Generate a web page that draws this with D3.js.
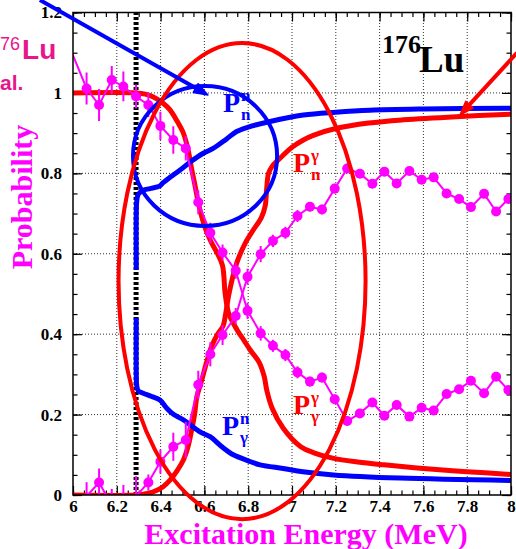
<!DOCTYPE html>
<html>
<head>
<meta charset="utf-8">
<script src="https://cdn.jsdelivr.net/npm/d3@7"></script>
<style>
  body { margin: 0; background: #fff; }
  svg { display: block; }
</style>
</head>
<body>
<svg id="chart" width="516" height="549"></svg>
<script>
// excitation energies (MeV) of the measured points, first one sits just left of the frame
const energies = [5.995, 6.062, 6.119, 6.177, 6.230, 6.288, 6.344, 6.399, 6.458, 6.515, 6.572, 6.627,
  6.683, 6.743, 6.797, 6.857, 6.913, 6.970, 7.025, 7.082, 7.137, 7.195, 7.252, 7.310, 7.367, 7.422,
  7.478, 7.536, 7.592, 7.647, 7.706, 7.763, 7.817, 7.877, 7.932, 7.988]

// measured probabilities (magenta) with errors
const gammaProb = [1.10, 1.011, 0.970, 1.032, 1.016, 0.991, 0.970, 0.918, 0.883, 0.862, 0.728, 0.652,
  0.603, 0.558, 0.458, 0.402, 0.371, 0.348, 0.305, 0.282, 0.292, 0.238, 0.184, 0.203, 0.230, 0.197,
  0.224, 0.195, 0.217, 0.210, 0.251, 0.263, 0.284, 0.253, 0.294, 0.261]
const gammaErr = [0.04, 0.04, 0.04, 0.035, 0.037, 0.03, 0.03, 0.035, 0.034, 0.03, 0.03, 0.025,
  0.02, 0.02, 0.02, 0.018, 0.015, 0.015, 0.015, 0.012, 0.012, 0.012, 0.012, 0.01, 0.01, 0.01,
  0.01, 0.01, 0.01, 0.01, 0.01, 0.01, 0.01, 0.01, 0.01, 0.01]

const neutronProb = [-0.05, -0.003, 0.031, -0.025, -0.02, -0.003, 0.031, 0.083, 0.120, 0.137, 0.274, 0.350,
  0.398, 0.445, 0.543, 0.599, 0.632, 0.652, 0.694, 0.717, 0.710, 0.762, 0.812, 0.799, 0.774, 0.804,
  0.775, 0.806, 0.784, 0.790, 0.750, 0.736, 0.716, 0.749, 0.705, 0.736]
const neutronErr = [0.05, 0.035, 0.035, 0.04, 0.045, 0.05, 0.02, 0.03, 0.035, 0.045, 0.035, 0.03,
  0.025, 0.02, 0.02, 0.02, 0.015, 0.015, 0.015, 0.012, 0.012, 0.012, 0.012, 0.01, 0.01, 0.01,
  0.01, 0.01, 0.01, 0.01, 0.01, 0.01, 0.01, 0.01, 0.01, 0.01]

// calculated curves [E, P]
const pNN = [[6.289, 0.56], [6.289, 0.70], [6.291, 0.73], [6.298, 0.748], [6.321, 0.758], [6.352, 0.762],
  [6.397, 0.769], [6.41, 0.776], [6.443, 0.79], [6.489, 0.808], [6.54, 0.83], [6.595, 0.85], [6.64, 0.862],
  [6.7, 0.885], [6.747, 0.904], [6.8, 0.915], [6.9, 0.929], [7.052, 0.945], [7.2, 0.952], [7.356, 0.957],
  [7.6, 0.96], [8.0, 0.962]]
const pGN = [[6.289, 0.44], [6.289, 0.30], [6.291, 0.272], [6.298, 0.259], [6.321, 0.253], [6.36, 0.245],
  [6.397, 0.236], [6.428, 0.216], [6.46, 0.2], [6.504, 0.187], [6.58, 0.157], [6.626, 0.145], [6.68, 0.12],
  [6.732, 0.1], [6.8, 0.085], [6.854, 0.075], [6.96, 0.066], [7.05, 0.058], [7.189, 0.05], [7.493, 0.042],
  [8.0, 0.036]]
const pGG = [[6.0, 1.0], [6.29, 1.0], [6.33, 0.997], [6.367, 0.99], [6.41, 0.975], [6.443, 0.958],
  [6.475, 0.93], [6.504, 0.9], [6.525, 0.86], [6.542, 0.81], [6.557, 0.77], [6.575, 0.72], [6.6, 0.67],
  [6.63, 0.63], [6.66, 0.6], [6.683, 0.57], [6.695, 0.5], [6.712, 0.45], [6.75, 0.41], [6.78, 0.385],
  [6.81, 0.36], [6.85, 0.33], [6.873, 0.295], [6.885, 0.26], [6.91, 0.215], [6.96, 0.166], [7.04, 0.12],
  [7.1, 0.105], [7.19, 0.091], [7.3, 0.082], [7.42, 0.075], [7.6, 0.066], [7.8, 0.058], [8.0, 0.051]]
const pNG = [[6.0, 0.0], [6.29, 0.0], [6.33, 0.003], [6.367, 0.008], [6.41, 0.02], [6.443, 0.037],
  [6.475, 0.06], [6.504, 0.087], [6.525, 0.12], [6.542, 0.162], [6.555, 0.2], [6.566, 0.245],
  [6.588, 0.286], [6.61, 0.33], [6.633, 0.37], [6.66, 0.40], [6.685, 0.42], [6.697, 0.45], [6.712, 0.5],
  [6.747, 0.576], [6.79, 0.63], [6.823, 0.659], [6.86, 0.69], [6.878, 0.72], [6.884, 0.76], [6.893, 0.80],
  [6.91, 0.818], [6.95, 0.84], [7.0, 0.865], [7.052, 0.883], [7.1, 0.895], [7.204, 0.912], [7.35, 0.925],
  [7.508, 0.933], [7.75, 0.941], [8.0, 0.947]]

const threshold = 6.288

const xTickLabels = ["6", "6.2", "6.4", "6.6", "6.8", "7", "7.2", "7.4", "7.6", "7.8", "8"]
const yTickLabels = ["0", "0.2", "0.4", "0.6", "0.8", "1", "1.2"]

// curve labels: anchor of the "P" in data coords
const curveLabels = [
  { e: 6.685, p: 0.953, sup: "n", sub: "n", color: "#0000ff" },
  { e: 7.005, p: 0.803, sup: "\u03b3", sub: "n", color: "#ff0000" },
  { e: 7.005, p: 0.201, sup: "\u03b3", sub: "\u03b3", color: "#ff0000" },
  { e: 6.680, p: 0.149, sup: "n", sub: "\u03b3", color: "#0000ff" }
]

// hand drawn marks over the figure (data coords)
const ellipses = [
  { e: 6.603, p: 0.843, re: 0.329, rp: 0.174, color: "#0000ff" },
  { e: 6.772, p: 0.532, re: 0.564, rp: 0.592, color: "#ff0000" }
]
const arrows = [
  { from: [5.849, 1.231], to: [6.616, 0.995], color: "#0000ff" },
  { from: [8.027, 1.0995], to: [7.767, 0.945], color: "#ff0000" }
]

const svg = d3.select("#chart")
const x = d3.scaleLinear().domain([6, 8]).range([73, 511])
const y = d3.scaleLinear().domain([0, 1.2]).range([495, 12.5])
const serif = "'Liberation Serif', 'Times New Roman', serif"
const sans = "'Liberation Sans', Arial, sans-serif"

svg.append("defs").append("clipPath").attr("id", "plot")
  .append("rect")
  .attr("x", x(6)).attr("y", y(1.2))
  .attr("width", x(8) - x(6)).attr("height", y(0) - y(1.2))

// grid
const grid = svg.append("g")
grid.selectAll("line.gx")
  .data(x.ticks(10).slice(1, -1))
  .join("line")
  .attr("x1", d => x(d)).attr("x2", d => x(d))
  .attr("y1", y(0)).attr("y2", y(1.2))
grid.selectAll("line.gy")
  .data(y.ticks(6).slice(1, -1))
  .join("line")
  .attr("class", "gy")
  .attr("x1", x(6)).attr("x2", x(8))
  .attr("y1", d => y(d)).attr("y2", d => y(d))
grid.selectAll("line")
  .attr("stroke", "#333")
  .attr("stroke-width", 1)
  .attr("stroke-dasharray", "1,2")

// axes with inward ticks on all four sides
function tidy(g) {
  g.select(".domain").remove()
  g.selectAll("line").attr("stroke", "#000").attr("stroke-width", 1.2)
  g.selectAll("text")
    .attr("font-family", serif)
    .attr("font-weight", "bold")
    .attr("font-size", 17)
    .attr("fill", "#000")
}
const fmtX = d => xTickLabels[Math.round((d - 6) / 0.2)]
const fmtY = d => yTickLabels[Math.round(d / 0.2)]

svg.append("g").attr("transform", `translate(0,${y(0)})`)
  .call(d3.axisBottom(x).ticks(50).tickSize(-4.5).tickFormat(""))
  .call(tidy)
svg.append("g").attr("transform", `translate(0,${y(0)})`)
  .call(d3.axisBottom(x).ticks(10).tickSize(-9).tickPadding(5).tickFormat(fmtX))
  .call(tidy)
svg.append("g").attr("transform", `translate(0,${y(1.2)})`)
  .call(d3.axisTop(x).ticks(50).tickSize(-4.5).tickFormat(""))
  .call(tidy)
svg.append("g").attr("transform", `translate(0,${y(1.2)})`)
  .call(d3.axisTop(x).ticks(10).tickSize(-9).tickFormat(""))
  .call(tidy)
svg.append("g").attr("transform", `translate(${x(6)},0)`)
  .call(d3.axisLeft(y).ticks(24).tickSize(-4.5).tickFormat(""))
  .call(tidy)
svg.append("g").attr("transform", `translate(${x(6)},0)`)
  .call(d3.axisLeft(y).ticks(6).tickSize(-9).tickPadding(11).tickFormat(fmtY))
  .call(tidy)
svg.append("g").attr("transform", `translate(${x(8)},0)`)
  .call(d3.axisRight(y).ticks(24).tickSize(-4.5).tickFormat(""))
  .call(tidy)
svg.append("g").attr("transform", `translate(${x(8)},0)`)
  .call(d3.axisRight(y).ticks(6).tickSize(-9).tickFormat(""))
  .call(tidy)

const plot = svg.append("g").attr("clip-path", "url(#plot)")

// neutron separation energy
plot.append("line")
  .attr("x1", x(threshold)).attr("x2", x(threshold))
  .attr("y1", y(0)).attr("y2", y(1.2))
  .attr("stroke", "#000")
  .attr("stroke-width", 5)
  .attr("stroke-dasharray", "3,2")

const line = d3.line()
  .x(d => x(d[0]))
  .y(d => y(d[1]))
  .curve(d3.curveCatmullRom.alpha(0.5))

const curves = [
  { pts: pGG, color: "#ff0000" },
  { pts: pNG, color: "#ff0000" },
  { pts: pNN, color: "#0000ff" },
  { pts: pGN, color: "#0000ff" }
]
plot.selectAll("path.curve")
  .data(curves)
  .join("path")
  .attr("class", "curve")
  .attr("d", d => line(d.pts))
  .attr("fill", "none")
  .attr("stroke", d => d.color)
  .attr("stroke-width", 5)
  .attr("stroke-linejoin", "round")

// measured points
const magenta = "#ff00ff"
const series = [
  energies.map((e, i) => ({ e, p: gammaProb[i], err: gammaErr[i] })),
  energies.map((e, i) => ({ e, p: neutronProb[i], err: neutronErr[i] }))
]
const straight = d3.line().x(d => x(d.e)).y(d => y(d.p))

series.forEach(s => {
  plot.append("g").selectAll("line")
    .data(s)
    .join("line")
    .attr("x1", d => x(d.e)).attr("x2", d => x(d.e))
    .attr("y1", d => y(d.p - d.err)).attr("y2", d => y(d.p + d.err))
    .attr("stroke", magenta)
    .attr("stroke-width", 2)
  plot.append("path")
    .attr("d", straight(s))
    .attr("fill", "none")
    .attr("stroke", magenta)
    .attr("stroke-width", 2)
  // markers outside the frame are not drawn
  plot.append("g").selectAll("circle")
    .data(s.filter(d => d.e >= 6 && d.p >= 0))
    .join("circle")
    .attr("cx", d => x(d.e))
    .attr("cy", d => y(d.p))
    .attr("r", 5)
    .attr("fill", magenta)
})

// frame
svg.append("rect")
  .attr("x", x(6)).attr("y", y(1.2))
  .attr("width", x(8) - x(6)).attr("height", y(0) - y(1.2))
  .attr("fill", "none")
  .attr("stroke", "#000")
  .attr("stroke-width", 1.5)

// curve labels
curveLabels.forEach(d => {
  const g = svg.append("g")
    .attr("fill", d.color)
    .attr("font-family", serif)
    .attr("font-weight", "bold")
  g.append("text").attr("x", x(d.e)).attr("y", y(d.p)).attr("font-size", 28).text("P")
  g.append("text").attr("x", x(d.e) + 18).attr("y", y(d.p) - 11).attr("font-size", 17).text(d.sup)
  g.append("text").attr("x", x(d.e) + 18).attr("y", y(d.p) + 8).attr("font-size", 17).text(d.sub)
})

// nucleus label
svg.append("text")
  .attr("x", x(7.411)).attr("y", y(1.1))
  .attr("font-family", serif).attr("font-weight", "bold")
  .attr("font-size", 26).attr("fill", "#000")
  .text("176")
svg.append("text")
  .attr("x", x(7.58)).attr("y", y(1.053))
  .attr("font-family", serif).attr("font-weight", "bold")
  .attr("font-size", 37).attr("fill", "#000")
  .text("Lu")

// remnants of a label lying mostly beyond the left edge of the figure
const pink = "#e8158c"
const cut = svg.append("text")
  .attr("x", 0).attr("y", 59)
  .attr("font-family", sans)
  .attr("fill", pink)
cut.append("tspan").attr("font-size", 18).attr("dy", -9).text("76")
cut.append("tspan").attr("font-size", 28).attr("font-weight", "bold").attr("dx", 2).attr("dy", 9).text("Lu")
svg.append("text")
  .attr("x", 0).attr("y", 90)
  .attr("font-family", sans)
  .attr("font-weight", "bold")
  .attr("font-size", 21)
  .attr("fill", pink)
  .text("al.")

// axis titles
svg.append("text")
  .attr("x", 306).attr("y", 544)
  .attr("text-anchor", "middle")
  .attr("font-family", serif).attr("font-weight", "bold")
  .attr("font-size", 30).attr("fill", magenta)
  .text("Excitation Energy (MeV)")
svg.append("text")
  .attr("transform", "translate(32,197) rotate(-90)")
  .attr("text-anchor", "middle")
  .attr("font-family", serif).attr("font-weight", "bold")
  .attr("font-size", 30).attr("fill", magenta)
  .text("Probability")

// overlay: circle, ellipse, arrows
svg.append("g").selectAll("ellipse")
  .data(ellipses)
  .join("ellipse")
  .attr("cx", d => x(d.e))
  .attr("cy", d => y(d.p))
  .attr("rx", d => x(d.e + d.re) - x(d.e))
  .attr("ry", d => y(d.p - d.rp) - y(d.p))
  .attr("fill", "none")
  .attr("stroke", d => d.color)
  .attr("stroke-width", 4)

arrows.forEach(a => {
  const x0 = x(a.from[0]), y0 = y(a.from[1])
  const x1 = x(a.to[0]), y1 = y(a.to[1])
  const ang = Math.atan2(y1 - y0, x1 - x0)
  const len = 14, half = 5
  const bx = x1 - len * Math.cos(ang), by = y1 - len * Math.sin(ang)
  svg.append("line")
    .attr("x1", x0).attr("y1", y0)
    .attr("x2", bx + 3 * Math.cos(ang)).attr("y2", by + 3 * Math.sin(ang))
    .attr("stroke", a.color)
    .attr("stroke-width", 4)
  svg.append("path")
    .attr("d", `M${x1},${y1}L${bx - half * Math.sin(ang)},${by + half * Math.cos(ang)}` +
      `L${bx + half * Math.sin(ang)},${by - half * Math.cos(ang)}Z`)
    .attr("fill", a.color)
    .attr("stroke", a.color)
    .attr("stroke-width", 1.5)
    .attr("stroke-linejoin", "round")
})
</script>
</body>
</html>
